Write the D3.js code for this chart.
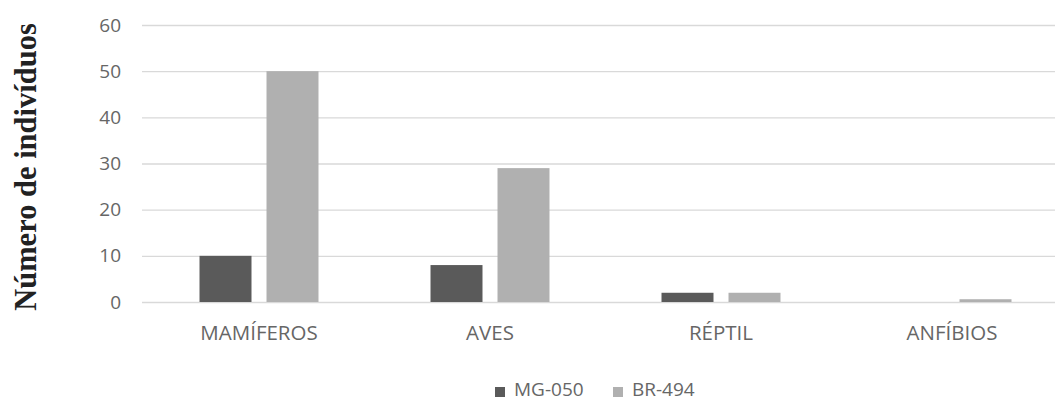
<!DOCTYPE html>
<html>
<head>
<meta charset="utf-8">
<script src="https://cdn.jsdelivr.net/npm/d3@7"></script>
<style>
  html, body { margin: 0; padding: 0; background: #ffffff; }
  svg { display: block; }
</style>
</head>
<body>
<script>
// Animal groups and counts per road
const categories = ["MAMÍFEROS", "AVES", "RÉPTIL", "ANFÍBIOS"];
const seriesNames = ["MG-050", "BR-494"];
const valuesMG050 = [10, 8, 2, 0];
const valuesBR494 = [50, 29, 2, 0.6];
const yTicks = [0, 10, 20, 30, 40, 50, 60];
const seriesColors = ["#5a5a5a", "#b0b0b0"];

const width = 1055, height = 403;
const svg = d3.select("body").append("svg")
  .attr("width", width).attr("height", height);

const x0 = d3.scaleBand().domain(categories).range([143.5, 1067.5]);
const x1 = d3.scaleBand().domain(seriesNames)
  .range([0, x0.bandwidth()])
  .paddingInner(0.224).paddingOuter(0.836);
const y = d3.scaleLinear().domain([0, 60]).range([302, 25]);

// horizontal gridlines
svg.append("g")
  .selectAll("line")
  .data(yTicks)
  .join("line")
  .attr("x1", 142).attr("x2", width)
  .attr("y1", d => y(d) + 0.5).attr("y2", d => y(d) + 0.5)
  .attr("stroke", "#d9d9d9").attr("stroke-width", 1.3);

// y tick labels
const yAxis = d3.axisLeft(y).tickValues(yTicks).tickSize(0).tickPadding(0);
const gy = svg.append("g").attr("transform", "translate(121,0)").call(yAxis);
gy.select(".domain").remove();
gy.selectAll("text")
  .attr("font-family", "'Open Sans', sans-serif")
  .attr("font-size", 19)
  .attr("fill", "#666666");

// bars
const rows = categories.map((c, i) => ({ cat: c, vals: [valuesMG050[i], valuesBR494[i]] }));
svg.append("g")
  .selectAll("g")
  .data(rows)
  .join("g")
  .attr("transform", d => `translate(${x0(d.cat)},0)`)
  .selectAll("rect")
  .data(d => d.vals.map((v, j) => ({ name: seriesNames[j], v, j })))
  .join("rect")
  .attr("x", d => x1(d.name))
  .attr("width", x1.bandwidth())
  .attr("y", d => y(d.v))
  .attr("height", d => y(0) - y(d.v))
  .attr("fill", d => seriesColors[d.j]);

// category labels
const xAxis = d3.axisBottom(x0).tickSize(0).tickPadding(0);
const gx = svg.append("g").attr("transform", "translate(0,325)").call(xAxis);
gx.select(".domain").remove();
gx.selectAll("text")
  .attr("font-family", "'Open Sans', sans-serif")
  .attr("font-size", 20.5)
  .attr("fill", "#666666");

// y axis title
svg.append("text")
  .attr("transform", "translate(36,167) rotate(-90)")
  .attr("text-anchor", "middle")
  .attr("font-family", "'Liberation Serif', 'Times New Roman', serif")
  .attr("font-weight", "bold")
  .attr("font-size", 30.5)
  .attr("fill", "#222222")
  .text("Número de indivíduos");

// legend
const legend = svg.append("g");
const legendItems = [
  { name: seriesNames[0], color: seriesColors[0], x: 495 },
  { name: seriesNames[1], color: seriesColors[1], x: 613 }
];
legend.selectAll("rect")
  .data(legendItems)
  .join("rect")
  .attr("x", d => d.x).attr("y", 387)
  .attr("width", 10).attr("height", 10)
  .attr("fill", d => d.color);
legend.selectAll("text")
  .data(legendItems)
  .join("text")
  .attr("x", d => d.x + 19).attr("y", 396)
  .attr("font-family", "'Open Sans', sans-serif")
  .attr("font-size", 19)
  .attr("fill", "#666666")
  .text(d => d.name);
</script>
</body>
</html>
